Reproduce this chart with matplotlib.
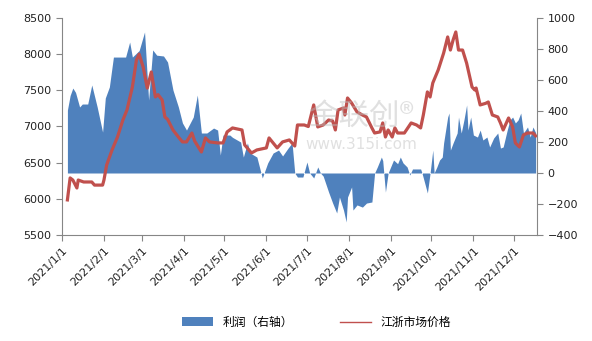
import numpy as np
import pandas as pd
import matplotlib
matplotlib.use("Agg")
import matplotlib.pyplot as plt
import matplotlib.dates as mdates
from matplotlib.patches import Patch
from matplotlib.lines import Line2D

plt.rcParams['font.family'] = ['DejaVu Sans', 'Noto Sans CJK SC']

# ---- 利润（右轴）----
profit_dates = [
    '01-05', '01-07', '01-09', '01-11', '01-14', '01-16', '01-20', '01-23', '01-27', '01-31',
    '02-02', '02-05', '02-08', '02-17', '02-20', '02-22', '02-27',
    '03-03', '03-06', '03-09', '03-12', '03-17', '03-20', '03-24', '03-28', '03-31',
    '04-03', '04-08', '04-11', '04-14', '04-18', '04-23', '04-26', '04-28', '04-30',
    '05-05', '05-07', '05-13', '05-15', '05-18', '05-20', '05-25', '05-29',
    '06-02', '06-06', '06-10', '06-13', '06-17', '06-20', '06-22', '06-24', '06-28',
    '07-01', '07-03', '07-06', '07-09', '07-11', '07-13', '07-17', '07-20', '07-23', '07-25',
    '07-28', '07-30', '07-31',
    '08-03', '08-04', '08-07', '08-11', '08-14', '08-18', '08-20', '08-22', '08-25', '08-26',
    '08-28', '08-30',
    '09-03', '09-06', '09-08', '09-10', '09-13', '09-15', '09-17', '09-23', '09-24', '09-26',
    '09-28', '09-30',
    '10-02', '10-03', '10-05', '10-07', '10-09', '10-10', '10-13', '10-14', '10-15', '10-17',
    '10-20', '10-21', '10-23', '10-25', '10-27', '10-28', '10-30',
    '11-01', '11-04', '11-06', '11-08', '11-11', '11-13', '11-16', '11-19', '11-21', '11-23',
    '11-26', '11-28', '11-30',
    '12-02', '12-04', '12-06', '12-08', '12-11', '12-13', '12-15', '12-17',
]
profit = [
    406, 500, 548, 520, 426, 445, 445, 568, 426, 264,
    484, 555, 748, 748, 845, 748, 790,
    910, 471, 794, 760, 755, 716, 535, 426, 323,
    277, 361, 503, 258, 258, 290, 277, 116, 245,
    245, 230, 200, 103, 194, 129, 103, -32,
    65, 129, 148, 110, 160, 194, 0, -26, -26,
    71, 0, -32, 39, 0, -20, -123, -194, -258, -155,
    -239, -316, -155,
    -90, -239, -206, -220, -194, -187, 0, 39, 103, 80,
    -123, 0,
    84, 60, 103, 65, 39, -13, 26, 26, 0, -64,
    -129, 0,
    148, 0, 39, 84, 103, 194, 361, 387, 148, 194,
    258, 361, 258, 342, 439, 277, 361,
    245, 232, 277, 213, 232, 168, 226, 258, 161, 168,
    277, 342, 361,
    323, 342, 387, 258, 297, 232, 297, 260,
]

# ---- 江浙市场价格（左轴）----
price_dates = [
    '01-05', '01-07', '01-09', '01-12', '01-13', '01-17', '01-23', '01-25', '01-31',
    '02-01', '02-03', '02-07', '02-11', '02-15', '02-18', '02-22', '02-25', '02-27',
    '03-02', '03-05', '03-08', '03-11', '03-13', '03-16', '03-18', '03-20', '03-24', '03-28',
    '03-31',
    '04-03', '04-07', '04-09', '04-14', '04-17', '04-20', '04-26', '04-30',
    '05-03', '05-07', '05-14', '05-16', '05-21', '05-25',
    '06-01', '06-03', '06-09', '06-13', '06-18', '06-22', '06-24', '06-29',
    '07-02', '07-06', '07-09', '07-13', '07-17', '07-20', '07-22', '07-24', '07-28', '07-29',
    '07-31',
    '08-03', '08-07', '08-11', '08-14', '08-18', '08-20', '08-24', '08-26', '08-28', '08-30',
    '09-02', '09-04', '09-06', '09-11', '09-16', '09-20', '09-23', '09-25', '09-28', '09-30',
    '10-02', '10-06', '10-10', '10-13', '10-15', '10-17', '10-19', '10-21', '10-24', '10-27',
    '10-31',
    '11-02', '11-03', '11-06', '11-10', '11-12', '11-15', '11-19', '11-21', '11-23', '11-27',
    '11-30',
    '12-02', '12-05', '12-08', '12-11', '12-15', '12-17',
]
price = [
    5985, 6289, 6260, 6150, 6260, 6233, 6233, 6190, 6190,
    6260, 6468, 6676, 6855, 7090, 7228, 7546, 7919, 8000,
    7820, 7530, 7754, 7408, 7440, 7367, 7132, 7100, 6952, 6855,
    6787,
    6787, 6910, 6800, 6648, 6842, 6787, 6773, 6773,
    6925, 6980, 6952, 6745, 6634, 6676,
    6704, 6842, 6704, 6787, 6814, 6730, 7021, 7021,
    7000, 7298, 6994, 7021, 7090, 7076, 6952, 7228, 7256, 7159,
    7394,
    7325, 7201, 7159, 7132, 6980, 6910, 6925, 7049, 6855, 6952,
    6855, 6980, 6910, 6910, 7049, 7021, 6980, 7159, 7478, 7408,
    7602, 7782, 8015, 8238, 8057, 8196, 8307, 8057, 8057, 7876,
    7546,
    7505, 7532, 7298, 7320, 7339, 7159, 7132, 7049, 6952, 7118,
    6994,
    6773, 6717, 6883, 6910, 6910, 6870,
]

tick_months = pd.date_range('2021-01-01', '2021-12-01', freq='MS')

pdates = pd.to_datetime(['2021-' + d for d in profit_dates])
qdates = pd.to_datetime(['2021-' + d for d in price_dates])

fig = plt.figure(figsize=(5.92, 3.41), dpi=100)
ax = fig.add_axes([62 / 592, 1 - 235 / 341, (537 - 62) / 592, (235 - 18) / 341])
ax2 = ax.twinx()

blue = '#4F81BD'
red = '#C0504D'
grey = '#868686'

ax2.fill_between(pdates, 0, profit, color=blue, linewidth=0, zorder=1)
ax2.set_ylim(-400, 1000)
ax2.set_yticks(np.arange(-400, 1001, 200))

ax.set_zorder(ax2.get_zorder() + 1)
ax.patch.set_visible(False)
ax.plot(qdates, price, color=red, linewidth=2.3, solid_joinstyle='round')
ax.set_ylim(5500, 8500)
ax.set_yticks(np.arange(5500, 8501, 500))

ax.set_xlim(pd.Timestamp('2021-01-01'), pd.Timestamp('2021-12-18'))
ax.set_xticks(tick_months)
ax.set_xticklabels([f'{d.year}/{d.month}/1' for d in tick_months],
                   rotation=45, ha='right', rotation_mode='anchor')

for a in (ax, ax2):
    a.spines['top'].set_visible(False)
    for s in ('left', 'right', 'bottom'):
        a.spines[s].set_color(grey)
        a.spines[s].set_linewidth(0.8)
    a.tick_params(colors=grey, labelcolor='#222222', labelsize=8, length=4, width=0.8)
ax.spines['right'].set_visible(False)
ax2.spines['left'].set_visible(False)
ax2.spines['bottom'].set_visible(False)

# 水印
fig.text(0.61, 0.66, '金联创®', fontsize=22, color='#bbbbbb', alpha=0.45,
         ha='center', va='center', family=['Noto Sans CJK SC', 'DejaVu Sans'], zorder=10)
fig.text(0.61, 0.575, 'www.315i.com', fontsize=11, color='#bbbbbb', alpha=0.45,
         ha='center', va='center', zorder=10)

handles = [Patch(facecolor=blue, edgecolor='none'),
           Line2D([0], [0], color=red, linewidth=1)]
fig.legend(handles, ['利润（右轴）', '江浙市场价格'], loc='center', ncol=2,
           bbox_to_anchor=(0.535, 0.055), frameon=False, handlelength=2.6,
           columnspacing=4, prop={'family': ['Noto Sans CJK SC', 'DejaVu Sans'], 'size': 8.5})

fig.savefig('out.png', dpi=100)
